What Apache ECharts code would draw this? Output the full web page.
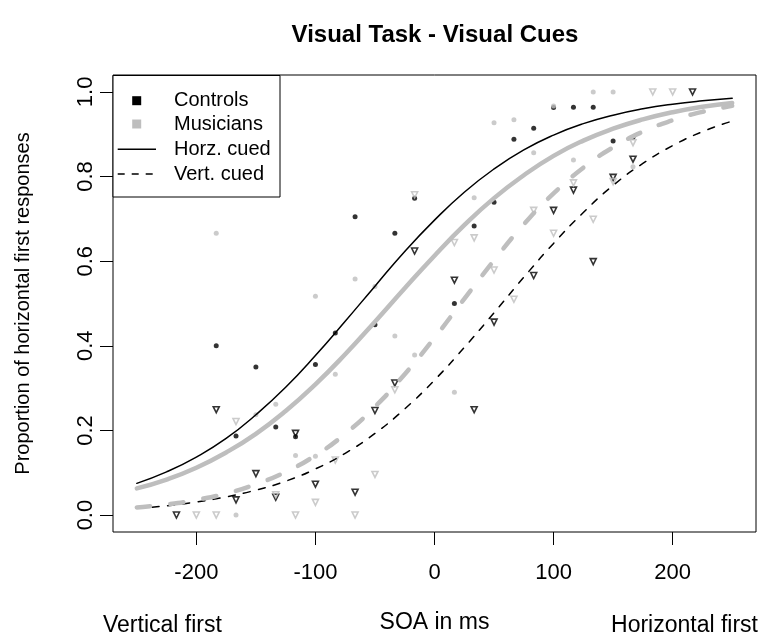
<!DOCTYPE html>
<html><head><meta charset="utf-8">
<script src="https://cdn.jsdelivr.net/npm/echarts@6/dist/echarts.min.js"></script>
<style>html,body{margin:0;padding:0;background:#fff}#chart{width:764px;height:639px}</style>
</head><body><div id="chart"></div>
<script>
const titleText = 'Visual Task - Visual Cues';
const xTicks = [-200, -100, 0, 100, 200];
const yTicks = [0, 0.2, 0.4, 0.6, 0.8, 1.0];
const legendLabels = ['Controls', 'Musicians', 'Horz. cued', 'Vert. cued'];
const yTitle = 'Proportion of horizontal first responses';
const xTitle = 'SOA in ms';
const leftNote = 'Vertical first';
const rightNote = 'Horizontal first';

// fitted curves
const curveSOA = [-250,-225,-200,-175,-150,-125,-100,-75,-50,-25,0,25,50,75,100,125,150,175,200,225,250];
const ctrlHorzFit = [0.075,0.102,0.137,0.181,0.237,0.302,0.377,0.458,0.541,0.623,0.697,0.763,0.818,0.863,0.898,0.925,0.945,0.960,0.971,0.979,0.985];
const musHorzFit  = [0.063,0.084,0.112,0.148,0.192,0.246,0.309,0.380,0.457,0.536,0.613,0.685,0.749,0.803,0.849,0.885,0.913,0.935,0.952,0.965,0.974];
const ctrlVertFit = [0.016,0.022,0.031,0.043,0.059,0.080,0.109,0.146,0.193,0.251,0.319,0.396,0.478,0.562,0.642,0.715,0.779,0.831,0.873,0.906,0.931];
const musVertFit  = [0.018,0.025,0.036,0.051,0.073,0.102,0.141,0.192,0.256,0.333,0.419,0.511,0.602,0.687,0.760,0.821,0.869,0.906,0.933,0.953,0.967];

// observed proportions
const ctrlHorzSOA = [-183.3,-166.7,-150,-133.3,-116.7,-100,-83.3,-66.7,-50,-33.3,-16.7,16.7,33.3,50,66.7,83.3,100,116.7,133.3,150,166.7];
const ctrlHorzP   = [0.400,0.187,0.350,0.208,0.185,0.356,0.430,0.705,0.450,0.666,0.749,0.500,0.683,0.739,0.888,0.914,0.963,0.964,0.964,0.884,0.893];
const musHorzSOA  = [-183.3,-166.7,-150,-133.3,-116.7,-100,-100,-83.3,-66.7,-50,-33.3,-16.7,16.7,33.3,50,66.7,83.3,100,116.7,133.3,150,166.7];
const musHorzP    = [0.666,0.000,0.237,0.262,0.141,0.517,0.139,0.333,0.558,0.540,0.423,0.378,0.290,0.750,0.927,0.934,0.856,0.967,0.839,1.000,1.000,0.823];
const ctrlVertSOA = [-216.7,-183.3,-166.7,-150,-133.3,-116.7,-100,-66.7,-50,-33.3,-16.7,16.7,33.3,50,83.3,100,116.7,133.3,150,166.7,216.7];
const ctrlVertP   = [0.000,0.249,0.036,0.098,0.042,0.193,0.073,0.054,0.247,0.312,0.624,0.555,0.249,0.456,0.566,0.720,0.768,0.599,0.798,0.841,1.000];
const musVertSOA  = [-200,-183.3,-166.7,-133.3,-116.7,-100,-83.3,-66.7,-50,-33.3,-16.7,16.7,33.3,50,66.7,83.3,100,116.7,133.3,150,166.7,183.3,200];
const musVertP    = [0.000,0.000,0.221,0.048,0.000,0.030,0.130,0.000,0.096,0.296,0.757,0.644,0.655,0.579,0.510,0.720,0.666,0.785,0.699,0.788,0.880,1.000,1.000];

const pairs = (xs, ys) => xs.map((x, i) => [x, ys[i]]);
const BLACK = '#000000', GRAY = '#bebebe';
const FONT = '"Liberation Sans", Arial, Helvetica, sans-serif';

const dotSeries = (name, xs, ys, color) => ({
  name, type: 'scatter', data: pairs(xs, ys), symbol: 'circle', symbolSize: 5,
  itemStyle: { color: color }, silent: true
});
const triSeries = (name, xs, ys, color) => ({
  name, type: 'scatter', data: pairs(xs, ys), symbol: 'triangle', symbolRotate: 180, symbolSize: 6,
  itemStyle: { color: 'rgba(0,0,0,0)', borderColor: color, borderWidth: 1.6 }, silent: true
});
const curveSeries = (name, ys, color, width, dash) => ({
  name, type: 'line', data: pairs(curveSOA, ys), smooth: true, showSymbol: false, silent: true,
  lineStyle: { color: color, width: width, type: dash || 'solid', cap: 'round' }
});

const chart = echarts.init(document.getElementById('chart'), null, { renderer: 'canvas' });
chart.setOption({
  animation: false,
  backgroundColor: '#ffffff',
  textStyle: { fontFamily: FONT },
  grid: { left: 113, right: 8, top: 75, bottom: 103, show: true, borderColor: '#000', borderWidth: 1, backgroundColor: 'transparent' },
  xAxis: {
    type: 'value', min: -270, max: 270, position: 'bottom',
    name: xTitle, nameLocation: 'middle', nameGap: 79,
    nameTextStyle: { fontSize: 23, color: '#000', fontFamily: FONT },
    axisLine: { show: false, onZero: false },
    axisTick: { show: true, customValues: xTicks, length: 13, inside: false, lineStyle: { color: '#000', width: 1 } },
    axisLabel: { customValues: xTicks, fontSize: 22, color: '#000', margin: 30, fontFamily: FONT },
    splitLine: { show: false }
  },
  yAxis: {
    type: 'value', min: -0.04, max: 1.04, position: 'left',
    name: yTitle, nameLocation: 'middle', nameGap: 80,
    nameTextStyle: { fontSize: 20, color: '#000', fontFamily: FONT },
    axisLine: { show: false, onZero: false },
    axisTick: { show: true, customValues: yTicks, length: 13, inside: false, lineStyle: { color: '#000', width: 1 } },
    axisLabel: { customValues: yTicks, fontSize: 22, color: '#000', margin: 16, rotate: 90, fontFamily: FONT,
      formatter: v => Number(v).toFixed(1) },
    splitLine: { show: false }
  },
  series: [
    dotSeries('Controls Horz', ctrlHorzSOA, ctrlHorzP, BLACK),
    triSeries('Controls Vert', ctrlVertSOA, ctrlVertP, BLACK),
    curveSeries('Controls Horz fit', ctrlHorzFit, BLACK, 1.5),
    curveSeries('Controls Vert fit', ctrlVertFit, BLACK, 1.5, [7, 8.4]),
    dotSeries('Musicians Horz', musHorzSOA, musHorzP, GRAY),
    triSeries('Musicians Vert', musVertSOA, musVertP, GRAY),
    curveSeries('Musicians Horz fit', musHorzFit, GRAY, 4.5),
    curveSeries('Musicians Vert fit', musVertFit, GRAY, 4.5, [13.5, 20])
  ],
  graphic: [
    { type: 'text', x: 435, y: 35, z: 100, style: { text: titleText, font: 'bold 24px ' + FONT, fill: '#000', textAlign: 'center', textVerticalAlign: 'middle' } },
    { type: 'text', x: 103, y: 626, z: 100, style: { text: leftNote, font: '23px ' + FONT, fill: '#000', textAlign: 'left', textVerticalAlign: 'middle' } },
    { type: 'text', x: 758, y: 626, z: 100, style: { text: rightNote, font: '23px ' + FONT, fill: '#000', textAlign: 'right', textVerticalAlign: 'middle' } },
    { type: 'rect', z: 100, shape: { x: 113, y: 75.5, width: 167, height: 121.5 }, style: { fill: '#fff', stroke: '#000', lineWidth: 1 } },
    { type: 'rect', z: 101, shape: { x: 132.2, y: 96.2, width: 9, height: 9 }, style: { fill: BLACK } },
    { type: 'rect', z: 101, shape: { x: 132.2, y: 119.5, width: 9, height: 9 }, style: { fill: GRAY } },
    { type: 'line', z: 101, shape: { x1: 117.7, y1: 149.3, x2: 156, y2: 149.3 }, style: { stroke: BLACK, lineWidth: 1.5 } },
    { type: 'line', z: 101, shape: { x1: 117.7, y1: 174, x2: 156, y2: 174 }, style: { stroke: BLACK, lineWidth: 1.5, lineDash: [7, 7] } },
    { type: 'text', z: 101, x: 174, y: 100.7, style: { text: legendLabels[0], font: '20px ' + FONT, fill: '#000', textVerticalAlign: 'middle' } },
    { type: 'text', z: 101, x: 174, y: 124, style: { text: legendLabels[1], font: '20px ' + FONT, fill: '#000', textVerticalAlign: 'middle' } },
    { type: 'text', z: 101, x: 174, y: 149.3, style: { text: legendLabels[2], font: '20px ' + FONT, fill: '#000', textVerticalAlign: 'middle' } },
    { type: 'text', z: 101, x: 174, y: 174, style: { text: legendLabels[3], font: '20px ' + FONT, fill: '#000', textVerticalAlign: 'middle' } }
  ]
});
</script>
</body></html>
